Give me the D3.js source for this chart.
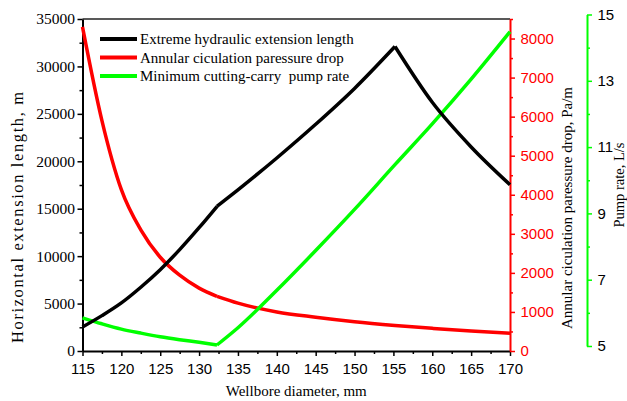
<!DOCTYPE html>
<html>
<head>
<meta charset="utf-8">
<script src="https://cdn.jsdelivr.net/npm/d3@7/dist/d3.min.js"></script>
<style>
  html, body { margin: 0; padding: 0; background: #fff; }
  svg { display: block; }
  .serif { font-family: "Liberation Serif", "Times New Roman", serif; }
  .sans { font-family: "Liberation Sans", Arial, sans-serif; }
</style>
</head>
<body>
<svg id="chart" width="627" height="401"></svg>
<script>
// Wellbore diameter, mm
const diameter = [115, 117.5, 120, 122.5, 125, 127.5, 130, 132.3, 135, 140, 145, 150, 155.2, 160, 165, 170];
// Extreme hydraulic extension length, m (left axis)
const extensionLength = [2530, 3730, 5070, 6720, 8570, 10690, 13000, 15240, 16990, 20350, 23900, 27680, 32100, 26220, 21510, 17530];
// Annular circulation pressure drop, Pa/m (red axis)
const pressureDrop = [8300, 5900, 4130, 3100, 2400, 1940, 1610, 1400, 1225, 1000, 865, 750, 655, 580, 510, 455];
// Minimum cutting-carry pump rate, L/s (green axis)
const pumpRate = [5.85, 5.67, 5.51, 5.39, 5.28, 5.19, 5.11, 5.03, 5.55, 6.68, 7.88, 9.12, 10.47, 11.70, 13.05, 14.48];
// Indices where a curve changes regime (sharp corners)
const lengthBreaks = [7, 12];
const pressureBreaks = [7];
const pumpBreaks = [7];

const xTicks = d3.range(115, 171, 5);
const lengthTicks = d3.range(0, 35001, 5000);
const pressureTicks = d3.range(0, 8001, 1000);
const pumpTicks = [5, 7, 9, 11, 13, 15];

const seriesNames = [
  "Extreme hydraulic extension length",
  "Annular ciculation paressure drop",
  "Minimum cutting-carry  pump rate"
];
const RED = "#ff0000", GREEN = "#00ff00", BLACK = "#000000";

const svg = d3.select("#chart");
const L = 82.5, R = 510, T = 19, B = 351;

const x = d3.scaleLinear().domain([115, 170]).range([L, R]);
const yLen = d3.scaleLinear().domain([0, 35000]).range([B, T]);
const yPre = d3.scaleLinear().domain([0, 8500]).range([B, T]);
const yPump = d3.scaleLinear().domain([5, 15]).range([346, 14.5]);

function styleAxis(g, color, lw) {
  g.selectAll("path.domain").attr("stroke", color).attr("stroke-width", lw);
  g.selectAll(".tick line").attr("stroke", color).attr("stroke-width", 1.5);
}

// top frame
svg.append("line").attr("x1", L).attr("x2", R).attr("y1", T).attr("y2", T)
  .attr("stroke", "#222").attr("stroke-width", 1.5);

// bottom axis
const gx = svg.append("g").attr("transform", `translate(0,${B})`)
  .call(d3.axisBottom(x).tickValues(xTicks).tickSize(5).tickSizeOuter(0).tickPadding(7.5).tickFormat(d3.format("d")));
gx.attr("class", "sans").attr("font-size", 15);
gx.selectAll("text").attr("fill", BLACK);
styleAxis(gx, BLACK, 2);
const gxm = svg.append("g").attr("transform", `translate(0,${B})`)
  .call(d3.axisBottom(x).tickValues(d3.range(117.5, 170, 5)).tickSize(3).tickFormat(""));
gxm.select("path.domain").remove();
styleAxis(gxm, BLACK, 2);

// left axis
const gl = svg.append("g").attr("transform", `translate(${L},0)`)
  .call(d3.axisLeft(yLen).tickValues(lengthTicks).tickSize(5).tickSizeOuter(0).tickPadding(2.5).tickFormat(d3.format("d")));
gl.attr("class", "serif").attr("font-size", 15.5);
gl.selectAll("text").attr("fill", BLACK);
styleAxis(gl, BLACK, 2);
const glm = svg.append("g").attr("transform", `translate(${L},0)`)
  .call(d3.axisLeft(yLen).tickValues(d3.range(2500, 35000, 5000)).tickSize(3).tickFormat(""));
glm.select("path.domain").remove();
styleAxis(glm, BLACK, 2);

// right (red) axis
const gr = svg.append("g").attr("transform", `translate(${R},0)`)
  .call(d3.axisRight(yPre).tickValues(pressureTicks).tickSize(5).tickSizeOuter(0).tickPadding(5.5).tickFormat(d3.format("d")));
gr.attr("class", "sans").attr("font-size", 15);
gr.selectAll("text").attr("fill", RED);
styleAxis(gr, RED, 2);
const grm = svg.append("g").attr("transform", `translate(${R},0)`)
  .call(d3.axisRight(yPre).tickValues(d3.range(500, 8600, 1000)).tickSize(3).tickFormat(""));
grm.select("path.domain").remove();
styleAxis(grm, RED, 2);

// offset (green) axis
const gp = svg.append("g").attr("transform", "translate(587,0)")
  .call(d3.axisRight(yPump).tickValues(pumpTicks).tickSize(5).tickSizeOuter(0).tickPadding(5.5).tickFormat(d3.format("d")));
gp.attr("class", "sans").attr("font-size", 15);
gp.selectAll("text").attr("fill", BLACK);
styleAxis(gp, GREEN, 2);
const gpm = svg.append("g").attr("transform", "translate(587,0)")
  .call(d3.axisRight(yPump).tickValues([6, 8, 10, 12, 14]).tickSize(3).tickFormat(""));
gpm.select("path.domain").remove();
styleAxis(gpm, GREEN, 2);

// curves, split at their corner points
function segments(values, breaks) {
  const cuts = [0, ...breaks, values.length - 1];
  const out = [];
  for (let i = 0; i < cuts.length - 1; i++) {
    const seg = [];
    for (let j = cuts[i]; j <= cuts[i + 1]; j++) seg.push([diameter[j], values[j]]);
    out.push(seg);
  }
  return out;
}
function drawSeries(values, breaks, yScale, color, width) {
  const line = d3.line().x(d => x(d[0])).y(d => yScale(d[1])).curve(d3.curveMonotoneX);
  const g = svg.append("g");
  segments(values, breaks).forEach(seg => {
    g.append("path").attr("d", line(seg)).attr("fill", "none")
      .attr("stroke", color).attr("stroke-width", width)
      .attr("stroke-linejoin", "miter").attr("stroke-linecap", "butt");
  });
}
drawSeries(pressureDrop, pressureBreaks, yPre, RED, 3.5);
drawSeries(pumpRate, pumpBreaks, yPump, GREEN, 3.5);
drawSeries(extensionLength, lengthBreaks, yLen, BLACK, 3.5);

// legend
const legendColors = [BLACK, RED, GREEN];
const legendY = [39, 57.5, 76];
const lg = svg.append("g");
seriesNames.forEach((name, i) => {
  lg.append("line").attr("x1", 100).attr("x2", 137).attr("y1", legendY[i]).attr("y2", legendY[i])
    .attr("stroke", legendColors[i]).attr("stroke-width", 4);
  lg.append("text").attr("class", "serif").attr("x", 140).attr("y", legendY[i])
    .attr("dominant-baseline", "central").attr("font-size", 15).attr("fill", BLACK)
    .style("white-space", "pre").text(name);
});

// axis titles
svg.append("text").attr("class", "serif").attr("font-size", 15)
  .attr("x", (L + R) / 2).attr("y", 396).attr("text-anchor", "middle").text("Wellbore diameter, mm");
svg.append("text").attr("class", "serif").attr("font-size", 16.5)
  .attr("transform", "translate(23,217.5) rotate(-90)").attr("text-anchor", "middle")
  .attr("textLength", 251).attr("lengthAdjust", "spacing")
  .text("Horizontal extension length, m");
svg.append("text").attr("class", "serif").attr("font-size", 15)
  .attr("transform", "translate(572,208) rotate(-90)").attr("text-anchor", "middle")
  .text("Annular ciculation paressure drop, Pa/m");
svg.append("text").attr("class", "serif").attr("font-size", 14.5)
  .attr("transform", "translate(623.5,185) rotate(-90)").attr("text-anchor", "middle")
  .text("Pump rate, L/s");
</script>
</body>
</html>
